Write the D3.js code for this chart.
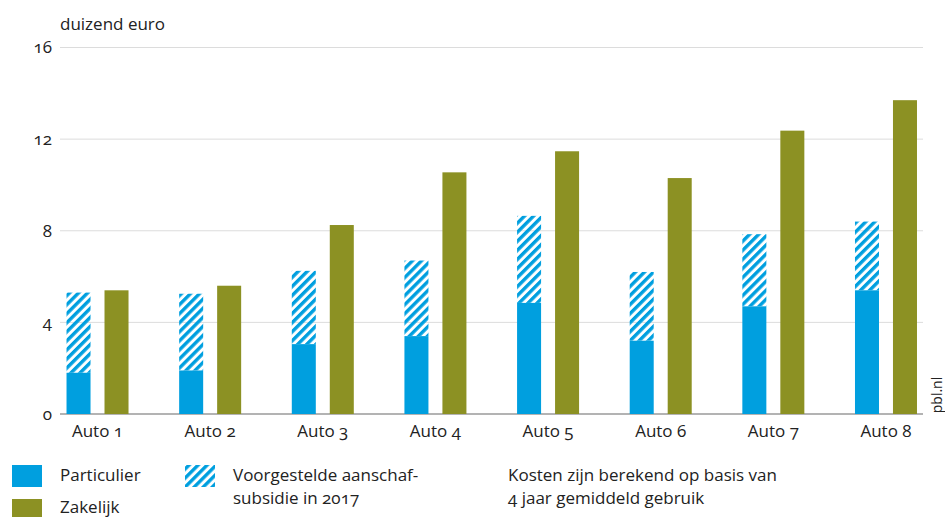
<!DOCTYPE html>
<html>
<head>
<meta charset="utf-8">
<script src="https://cdn.jsdelivr.net/npm/d3@7"></script>
<style>
  body { margin: 0; background: #fff; }
  svg text { font-family: "Open Sans", "Noto Sans", sans-serif; font-feature-settings: "onum"; fill: #222; }
</style>
</head>
<body>
<div id="root"></div>
<script>
const categories = ["Auto 1", "Auto 2", "Auto 3", "Auto 4", "Auto 5", "Auto 6", "Auto 7", "Auto 8"];
const particulier = [1.8, 1.9, 3.05, 3.4, 4.85, 3.2, 4.7, 5.4];
const subsidie = [3.5, 3.35, 3.2, 3.3, 3.8, 3.0, 3.15, 3.0];
const zakelijk = [5.4, 5.6, 8.25, 10.55, 11.47, 10.3, 12.37, 13.7];
const yTicks = [0, 4, 8, 12, 16];

const width = 945;
const height = 517;
const blue = "#009fdf";
const olive = "#8c9123";
const fs = 17;

const svg = d3
  .select("#root")
  .append("svg")
  .attr("width", width)
  .attr("height", height);

// hatch for the subsidy part
svg
  .append("defs")
  .append("pattern")
  .attr("id", "hatch")
  .attr("patternUnits", "userSpaceOnUse")
  .attr("width", 6.4)
  .attr("height", 6.4)
  .attr("patternTransform", "rotate(45)")
  .append("rect")
  .attr("width", 3.4)
  .attr("height", 6.4)
  .attr("fill", blue);

const yScale = d3.scaleLinear().domain([0, 16]).range([414, 47.5]);

const xScale = d3.scaleBand().domain(categories).range([41.2, 942.3]);

// two bars inside each group
const subScale = d3
  .scaleBand()
  .domain(["p", "z"])
  .range([-31, 31])
  .paddingInner(0.368);

// gridlines
svg
  .append("g")
  .selectAll("line")
  .data(yTicks)
  .enter()
  .append("line")
  .attr("x1", 60)
  .attr("x2", 923)
  .attr("y1", (d) => yScale(d))
  .attr("y2", (d) => yScale(d))
  .attr("stroke", (d) => (d === 0 ? "#9a9a9a" : "#dcdcdc"))
  .attr("stroke-width", (d) => (d === 0 ? 1.5 : 1));

const yAxis = d3.axisLeft(yScale).tickValues(yTicks).tickSize(0).tickPadding(0);
const yG = svg.append("g").attr("transform", "translate(52,0)").call(yAxis);
yG.select(".domain").remove();
yG.selectAll("text").attr("font-size", fs).attr("fill", "#222");

svg
  .append("text")
  .attr("x", 60)
  .attr("y", 30)
  .attr("font-size", fs)
  .text("duizend euro");

const groups = svg
  .selectAll(".grp")
  .data(categories)
  .enter()
  .append("g")
  .attr("class", "grp")
  .attr("transform", (d) => `translate(${xScale(d) + xScale.bandwidth() / 2},0)`);

groups
  .append("rect")
  .attr("x", subScale("p"))
  .attr("width", subScale.bandwidth())
  .attr("y", (d, i) => yScale(particulier[i] + subsidie[i]))
  .attr("height", (d, i) => yScale(particulier[i]) - yScale(particulier[i] + subsidie[i]))
  .attr("fill", "url(#hatch)");

groups
  .append("rect")
  .attr("x", subScale("p"))
  .attr("width", subScale.bandwidth())
  .attr("y", (d, i) => yScale(particulier[i]))
  .attr("height", (d, i) => yScale(0) - yScale(particulier[i]))
  .attr("fill", blue);

groups
  .append("rect")
  .attr("x", subScale("z"))
  .attr("width", subScale.bandwidth())
  .attr("y", (d, i) => yScale(zakelijk[i]))
  .attr("height", (d, i) => yScale(0) - yScale(zakelijk[i]))
  .attr("fill", olive);

const xAxis = d3.axisBottom(xScale).tickSize(0).tickPadding(0);
const xG = svg.append("g").attr("transform", "translate(0,425)").call(xAxis);
xG.select(".domain").remove();
xG.selectAll("text").attr("font-size", fs).attr("fill", "#222");

// pbl.nl
svg
  .append("text")
  .attr("transform", "translate(942,395) rotate(-90)")
  .attr("text-anchor", "middle")
  .attr("font-size", 14)
  .attr("fill", "#8a8a8a")
  .text("pbl.nl");

// legend
const legend = svg.append("g");
legend.append("rect").attr("x", 12).attr("y", 465).attr("width", 30).attr("height", 22).attr("fill", blue);
legend.append("rect").attr("x", 12).attr("y", 499).attr("width", 30).attr("height", 22).attr("fill", olive);
legend.append("rect").attr("x", 185).attr("y", 465).attr("width", 30).attr("height", 22).attr("fill", "url(#hatch)");
legend.append("text").attr("x", 60).attr("y", 481).attr("font-size", fs).text("Particulier");
legend.append("text").attr("x", 60).attr("y", 513).attr("font-size", fs).text("Zakelijk");
legend.append("text").attr("x", 233).attr("y", 481).attr("font-size", fs).text("Voorgestelde aanschaf-");
legend.append("text").attr("x", 233).attr("y", 504).attr("font-size", fs).text("subsidie in 2017");
legend.append("text").attr("x", 508).attr("y", 481).attr("font-size", fs).text("Kosten zijn berekend op basis van");
legend.append("text").attr("x", 508).attr("y", 504).attr("font-size", fs).text("4 jaar gemiddeld gebruik");
</script>
</body>
</html>
